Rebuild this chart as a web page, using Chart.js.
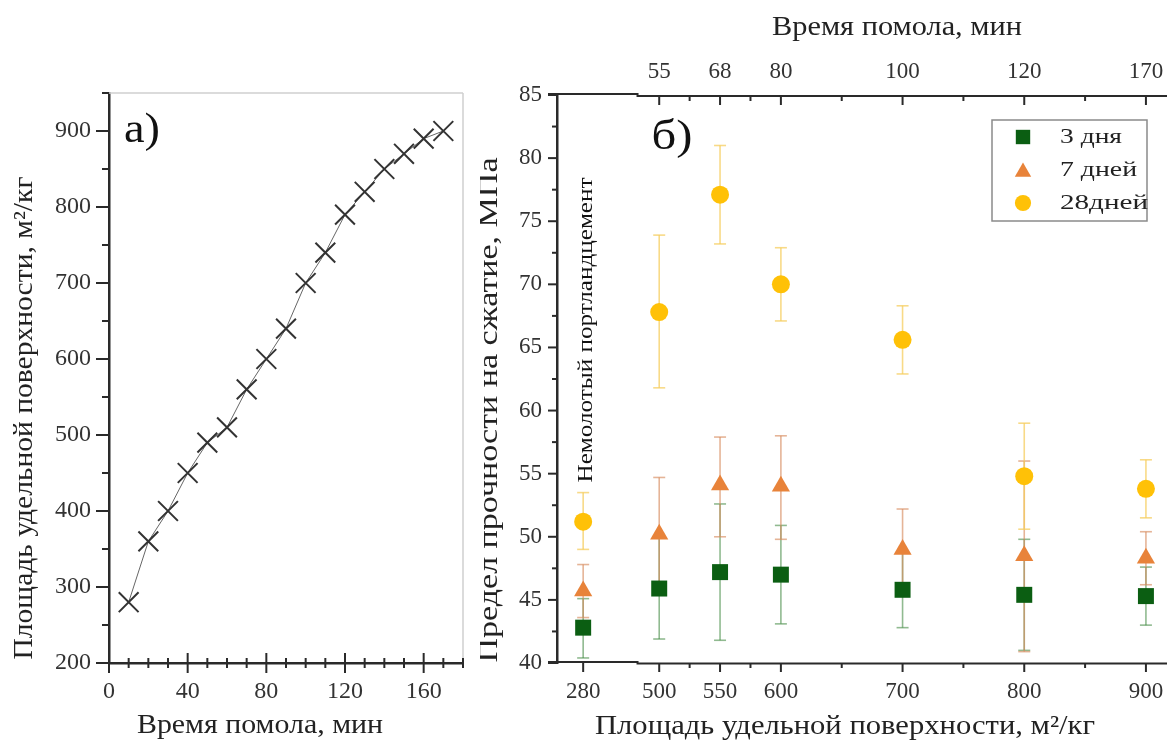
<!DOCTYPE html>
<html><head><meta charset="utf-8">
<script src="https://cdn.jsdelivr.net/npm/chart.js@4.4.1/dist/chart.umd.min.js"></script>
<style>
html,body{margin:0;padding:0;background:#fff;overflow:hidden;width:1167px;height:741px}
#wa{position:absolute;left:0;top:0;width:475px;height:741px}
#wb{position:absolute;left:480px;top:0;width:720px;height:741px}
</style></head><body>
<div id="wa"><canvas id="chA"></canvas></div>
<div id="wb"><canvas id="chB"></canvas></div>
<script>
// --- (а) площадь удельной поверхности vs время помола
const grindTime = [10,20,30,40,50,60,70,80,90,100,110,120,130,140,150,160,170];
const surfArea  = [280,360,400,450,490,510,560,600,640,700,740,790,820,850,870,890,900];
const timeTicksA = [0,40,80,120,160];
const areaTicksA = [200,300,400,500,600,700,800,900];

// --- (б) прочность на сжатие
const areaLabels = ['280','500','550','600','700','800','900'];
const areaPos    = [437.5,500,550,600,700,800,900]; // 280 sits left of the axis break
const timeLabels = ['','55','68','80','100','120','170'];
const strTicks   = [40,45,50,55,60,65,70,75,80,85];

const str3  = [42.8,45.9,47.2,47.0,45.8,45.4,45.3];
const lo3   = [40.4,41.9,41.8,43.1,42.8,41.0,43.0];
const hi3   = [45.1,49.9,52.6,50.9,48.8,49.8,47.6];
const str7  = [45.7,50.2,54.1,54.0,49.0,48.5,48.3];
const lo7   = [43.6,45.7,50.0,49.8,45.8,40.9,46.2];
const hi7   = [47.8,54.7,57.9,58.0,52.2,56.0,50.4];
const str28 = [51.2,67.8,77.1,70.0,65.6,54.8,53.8];
const lo28  = [49.0,61.8,73.2,67.1,62.9,50.6,51.5];
const hi28  = [53.5,73.9,81.0,72.9,68.3,59.0,56.1];

const SERIF = "'Liberation Serif','Times New Roman',serif";
const AX = '#2a2a2a';

function txt(ctx, s, x, y, size, opt){
  opt = opt || {};
  ctx.save();
  ctx.font = (opt.weight||'') + ' ' + size + 'px ' + SERIF;
  ctx.fillStyle = opt.color || '#222';
  ctx.textBaseline = 'middle';
  ctx.textAlign = opt.align || 'center';
  ctx.translate(x, y);
  if(opt.rot) ctx.rotate(opt.rot);
  const m = ctx.measureText(s).width;
  const sx = opt.w ? opt.w / m : (opt.sx || 1);
  ctx.scale(sx, 1);
  ctx.fillText(s, 0, 0);
  ctx.restore();
}
function line(ctx, x0, y0, x1, y1, color, w){
  ctx.save(); ctx.strokeStyle = color; ctx.lineWidth = w;
  ctx.beginPath(); ctx.moveTo(x0,y0); ctx.lineTo(x1,y1); ctx.stroke(); ctx.restore();
}
function fixed(size){ return function(scale){ if(scale.isHorizontal()) scale.height = size; else scale.width = size; }; }

// ---------- chart (а)
const decoA = {
  id:'decoA',
  afterDraw(chart){
    const ctx = chart.ctx, a = chart.chartArea, x = chart.scales.x, y = chart.scales.y;
    line(ctx, a.left, a.top, a.right, a.top, '#cfcfcf', 1.5);
    line(ctx, a.right, a.top, a.right, a.bottom, '#cfcfcf', 1.5);
    for(let v=0; v<=180; v+=10){
      const px = x.getPixelForValue(v), big = timeTicksA.includes(v);
      line(ctx, px, a.bottom-(big?10:5), px, a.bottom+(big?10:5), AX, 2);
    }
    for(let v=200; v<=950; v+=50){
      const py = y.getPixelForValue(v), big = areaTicksA.includes(v);
      line(ctx, a.left-(big?13:7), py, a.left, py, AX, 2);
    }
    timeTicksA.forEach(v => txt(ctx, String(v), x.getPixelForValue(v), 692, 24, {color:'#333'}));
    areaTicksA.forEach(v => txt(ctx, String(v), 91, y.getPixelForValue(v), 24, {color:'#333', align:'right'}));
    txt(ctx, 'Время помола, мин', 260, 726, 27, {w:246});
    txt(ctx, 'Площадь удельной поверхности, м²/кг', 25, 418, 27, {w:483, rot:-Math.PI/2});
    txt(ctx, 'а)', 142, 131, 42, {w:36, color:'#111'});
  }
};

new Chart(document.getElementById('chA'), {
  type:'line',
  data:{ datasets:[{
    data: grindTime.map((t,i)=>({x:t, y:surfArea[i]})),
    borderColor:'#666', borderWidth:1,
    pointStyle:'crossRot', pointRadius:14, pointBorderWidth:2,
    pointBorderColor:'#333', pointBackgroundColor:'#333', tension:0
  }]},
  options:{
    responsive:true, maintainAspectRatio:false, animation:false,
    layout:{ padding:{left:0, right:12, top:93, bottom:0}, autoPadding:false },
    plugins:{ legend:{display:false}, tooltip:{enabled:false} },
    scales:{
      x:{ type:'linear', min:0, max:180, afterFit:fixed(78),
          ticks:{display:false}, grid:{display:false}, border:{color:AX, width:2.5} },
      y:{ type:'linear', min:200, max:950, afterFit:fixed(109),
          ticks:{display:false}, grid:{display:false}, border:{color:AX, width:2.5} }
    }
  },
  plugins:[decoA]
});

// ---------- chart (б)
const series = [
  {label:'3 дня',  val:str3,  lo:lo3,  hi:hi3,  color:'#0b5e12', bar:'rgba(70,140,70,0.6)',   style:'rect',     r:11.3},
  {label:'7 дней', val:str7,  lo:lo7,  hi:hi7,  color:'#e8833a', bar:'rgba(215,140,95,0.65)',  style:'triangle', r:10.5},
  {label:'28дней', val:str28, lo:lo28, hi:hi28, color:'#ffc107', bar:'rgba(245,205,95,0.75)',  style:'circle',   r:9}
];

function marker(ctx, style, x, y, r, color){
  ctx.save(); ctx.fillStyle = color; ctx.beginPath();
  if(style==='rect'){ const s = r*Math.SQRT1_2; ctx.rect(x-s, y-s, 2*s, 2*s); }
  else if(style==='triangle'){ ctx.moveTo(x, y-r); ctx.lineTo(x+r*0.866, y+r/2); ctx.lineTo(x-r*0.866, y+r/2); ctx.closePath(); }
  else { ctx.arc(x, y, r, 0, Math.PI*2); }
  ctx.fill(); ctx.restore();
}

const decoB = {
  id:'decoB',
  beforeDatasetsDraw(chart){
    const ctx = chart.ctx, x = chart.scales.x, y = chart.scales.y;
    series.forEach(s => {
      areaPos.forEach((p,i) => {
        const px = x.getPixelForValue(p), y0 = y.getPixelForValue(s.lo[i]), y1 = y.getPixelForValue(s.hi[i]);
        line(ctx, px, y0, px, y1, s.bar, 1.6);
        line(ctx, px-6, y0, px+6, y0, s.bar, 1.6);
        line(ctx, px-6, y1, px+6, y1, s.bar, 1.6);
      });
    });
  },
  afterDraw(chart){
    const ctx = chart.ctx, a = chart.chartArea, x = chart.scales.x, y = chart.scales.y;
    const brk = x.getPixelForValue(483);
    // broken x axes
    line(ctx, a.left-9, a.bottom-1, brk, a.bottom-1, AX, 2);
    line(ctx, brk-2, a.bottom+0.5, a.right, a.bottom+0.5, AX, 2);
    line(ctx, a.left-9, a.top-1, brk, a.top-1, AX, 2);
    line(ctx, brk-2, a.top+1, a.right, a.top+1, AX, 2);
    areaPos.forEach(p => line(ctx, x.getPixelForValue(p), a.bottom, x.getPixelForValue(p), a.bottom+9, AX, 2));
    areaPos.slice(1).forEach(p => line(ctx, x.getPixelForValue(p), a.top, x.getPixelForValue(p), a.top+10, AX, 2));
    [525,575,650,750,850].forEach(p => {
      const px = x.getPixelForValue(p);
      line(ctx, px, a.bottom, px, a.bottom+5, AX, 2);
      line(ctx, px, a.top, px, a.top+6, AX, 2);
    });
    for(let v=40; v<=85; v+=2.5){
      const py = y.getPixelForValue(v), big = strTicks.includes(v);
      line(ctx, a.left-(big?9:5), py, a.left, py, AX, 2);
    }
    // tick labels
    areaPos.forEach((p,i) => txt(ctx, areaLabels[i], x.getPixelForValue(p), 692, 23, {color:'#333'}));
    areaPos.forEach((p,i) => { if(timeLabels[i]) txt(ctx, timeLabels[i], x.getPixelForValue(p), 72, 23, {color:'#333'}); });
    strTicks.forEach(v => txt(ctx, String(v), 62, y.getPixelForValue(v), 23, {color:'#333', align:'right'}));
    // titles
    txt(ctx, 'Время помола, мин', 897-480, 28, 27, {w:250});
    txt(ctx, 'Площадь удельной поверхности, м²/кг', 845-480, 727, 27, {w:500});
    txt(ctx, 'Предел прочности на сжатие, МПа', 490-480, 410, 27, {w:505, rot:-Math.PI/2});
    txt(ctx, 'б)', 672-480, 138, 42, {w:41, color:'#111'});
    txt(ctx, 'Немолотый портландцемент', 586-480, 330, 22, {w:305, rot:-Math.PI/2, color:'#111'});
    // legend
    ctx.save(); ctx.strokeStyle = '#8a8a8a'; ctx.lineWidth = 1.5;
    ctx.strokeRect(992-480, 120, 155, 101); ctx.restore();
    const rows = [137, 170, 203], widths = [62, 77, 88];
    series.forEach((s,i) => {
      marker(ctx, s.style, 1023-480, rows[i] + (s.style==='triangle'?2:0), s.r*0.9, s.color);
      txt(ctx, s.label, 1060-480, rows[i], 22, {align:'left', w:widths[i], color:'#222'});
    });
  }
};

new Chart(document.getElementById('chB'), {
  type:'scatter',
  data:{ datasets: series.map(s => ({
    label:s.label,
    data: areaPos.map((p,i)=>({x:p, y:s.val[i]})),
    pointStyle:s.style, pointRadius:s.r, pointBackgroundColor:s.color,
    pointBorderColor:s.color, pointBorderWidth:0, showLine:false
  }))},
  options:{
    responsive:true, maintainAspectRatio:false, animation:false,
    layout:{ padding:{left:0, right:20, top:0, bottom:0}, autoPadding:false },
    plugins:{ legend:{display:false}, tooltip:{enabled:false} },
    scales:{
      x:{ type:'linear', position:'bottom', min:416, max:928, afterFit:fixed(78),
          ticks:{display:false}, grid:{display:false}, border:{display:false} },
      x2:{ type:'linear', position:'top', min:416, max:928, afterFit:fixed(95),
          ticks:{display:false}, grid:{display:false}, border:{display:false} },
      y:{ type:'linear', min:40, max:85, afterFit:fixed(77),
          ticks:{display:false}, grid:{display:false}, border:{color:AX, width:2.5} }
    }
  },
  plugins:[decoB]
});
</script>
</body></html>
